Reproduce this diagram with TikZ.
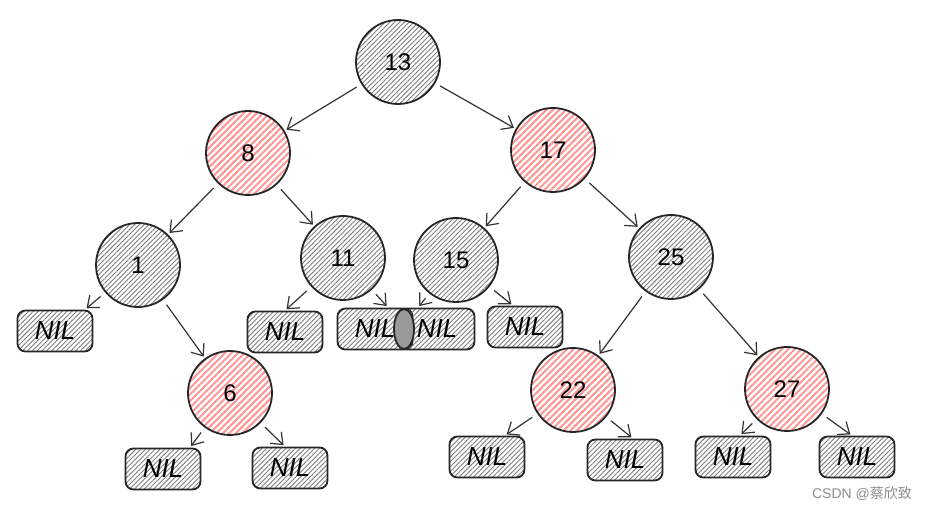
\documentclass[tikz,border=0pt]{standalone}
\usepackage{fontspec}
\setmainfont{Liberation Sans}
\newfontfamily\cjk{Noto Sans CJK SC}
\usetikzlibrary{patterns.meta,arrows.meta,shapes.geometric}
\definecolor{hatchred}{RGB}{255,150,150}
\definecolor{hatchgray}{RGB}{125,125,125}
\tikzset{
  treenode/.style={circle, draw=black!85, line width=0.9pt, minimum size=42pt, inner sep=0pt,
    font=\fontsize{12}{12}\selectfont},
  blk/.style={treenode, pattern={Lines[angle=45,distance=1.7pt,line width=0.45pt]}, pattern color=hatchgray},
  rd/.style={treenode, pattern={Lines[angle=45,distance=2.3pt,line width=1pt]}, pattern color=hatchred},
  nilbox/.style={rectangle, rounded corners=4pt, draw=black!85, line width=0.9pt,
    minimum width=37.5pt, minimum height=20.5pt, inner sep=0pt,
    pattern={Lines[angle=45,distance=1.7pt,line width=0.45pt]}, pattern color=hatchgray,
    font=\fontsize{13}{13}\selectfont\itshape},
  arr/.style={draw=black!80, line width=0.6pt, -{Straight Barb[length=5pt,width=8pt]},
    shorten <=3pt, shorten >=1pt}
}
\begin{document}
\begin{tikzpicture}[x=0.5pt,y=-0.5pt]
\useasboundingbox (0,0) rectangle (927,513);
% circles
\node[blk] (n13) at (398,62) {13};
\node[rd]  (n8)  at (248,153) {8};
\node[rd]  (n17) at (553,150) {17};
\node[blk] (n1)  at (138,265) {1};
\node[blk] (n11) at (343,258) {11};
\node[blk] (n15) at (456,260) {15};
\node[blk] (n25) at (671,257) {25};
\node[rd]  (n6)  at (230,393) {6};
\node[rd]  (n22) at (573,390) {22};
\node[rd]  (n27) at (787,389) {27};
% NIL boxes
\node[nilbox] (nil1)   at (55,331)  {NIL};
\node[nilbox] (nil11)  at (285,332) {NIL};
\node[nilbox] (nilL)   at (375,329) {NIL};
\node[nilbox] (nilR)   at (437,329) {NIL};
\node[ellipse, draw=black!85, line width=0.9pt, fill=black!40, minimum width=10pt, minimum height=20pt, inner sep=0pt] (mid) at (404,329) {};
\node[nilbox] (nil15)  at (525,327) {NIL};
\node[nilbox] (nil6L)  at (163,469) {NIL};
\node[nilbox] (nil6R)  at (290,468) {NIL};
\node[nilbox] (nil22L) at (487,457) {NIL};
\node[nilbox] (nil22R) at (625,460) {NIL};
\node[nilbox] (nil27L) at (733,457) {NIL};
\node[nilbox] (nil27R) at (857,457) {NIL};
% arrows
\draw[arr] (n13) -- (n8);
\draw[arr] (n13) -- (n17);
\draw[arr] (n8) -- (n1);
\draw[arr] (n8) -- (n11);
\draw[arr] (n1) -- ([xshift=15pt]nil1.north);
\draw[arr] (n1) -- (n6);
\draw[arr] (n11) -- (nil11.north);
\draw[arr] (n11) -- ([xshift=6.5pt]nilL.north);
\draw[arr] (n15) -- ([xshift=-9.5pt]nilR.north);
\draw[arr] (n15) -- ([xshift=-6pt]nil15.north);
\draw[arr] (n17) -- (n15);
\draw[arr] (n17) -- (n25);
\draw[arr] (n25) -- (n22);
\draw[arr] (n25) -- (n27);
\draw[arr] (n6) -- ([xshift=13.5pt]nil6L.north);
\draw[arr] (n6) -- ([xshift=-2.5pt]nil6R.north);
\draw[arr] (n22) -- ([xshift=9pt]nil22L.north);
\draw[arr] (n22) -- ([xshift=4pt]nil22R.north);
\draw[arr] (n27) -- ([xshift=3.5pt]nil27L.north);
\draw[arr] (n27) -- ([xshift=-2.5pt]nil27R.north);
% watermark
\node[text=black!45, font=\fontsize{7}{7}\selectfont, inner sep=0pt] (wm) at (862,494) {CSDN @{\cjk 蔡欣致}};
\end{tikzpicture}
\end{document}
